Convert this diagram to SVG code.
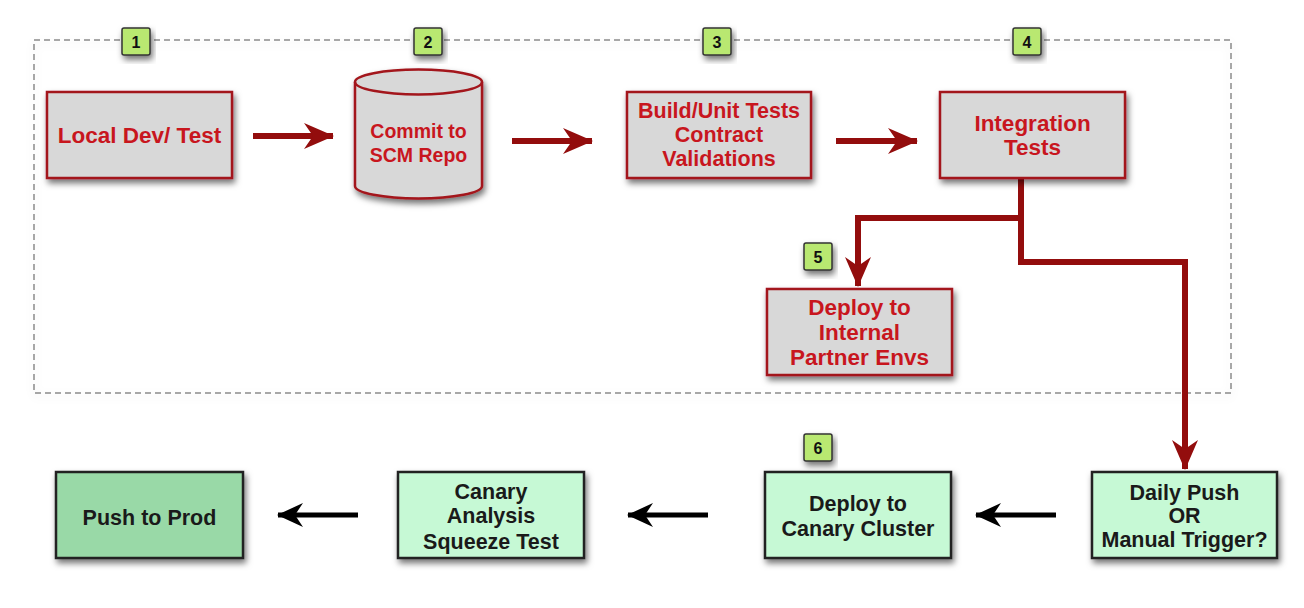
<svg xmlns="http://www.w3.org/2000/svg" width="1304" height="608" viewBox="0 0 1304 608">
<style>
.rbox{fill:#d8d8d8;stroke:#a3161c;stroke-width:2.5}
.gbox{fill:#c6f9d5;stroke:#222;stroke-width:2.5}
.pbox{fill:#99d9a7;stroke:#222;stroke-width:2.5}
.rt{font-family:"Liberation Sans",Arial,sans-serif;font-weight:bold;fill:#c8161e;text-anchor:middle}
.gt{font-family:"Liberation Sans",Arial,sans-serif;font-weight:bold;fill:#1a1a1a;text-anchor:middle;font-size:21.5px}
.badge rect{fill:#b9e871;stroke:#333;stroke-width:1.5}
.badge text{font-family:"Liberation Sans",Arial,sans-serif;font-weight:bold;font-size:16px;fill:#111;text-anchor:middle}
.rc{fill:none;stroke:#930d0d;stroke-width:6}
.bc{fill:none;stroke:#000;stroke-width:5}
</style>
<defs>
<filter id="sh" x="-20%" y="-20%" width="140%" height="150%">
<feDropShadow dx="2" dy="4" stdDeviation="3" flood-color="#000" flood-opacity="0.55"/>
</filter>
<filter id="sh2" x="-5%" y="-5%" width="110%" height="115%">
<feDropShadow dx="0" dy="3" stdDeviation="4" flood-color="#000" flood-opacity="0.12"/>
</filter>
<marker id="ra" markerUnits="userSpaceOnUse" viewBox="0 0 30 26" refX="29" refY="13" markerWidth="30" markerHeight="26" orient="auto">
<path d="M0,0 L30,13 L0,26 L9,13 Z" fill="#930d0d"/>
</marker>
<marker id="ba" markerUnits="userSpaceOnUse" viewBox="0 0 26 24" refX="25" refY="12" markerWidth="26" markerHeight="24" orient="auto">
<path d="M0,0 L26,12 L0,24 L8,12 Z" fill="#000"/>
</marker>
</defs>
<rect width="1304" height="608" fill="#fff"/>
<g id="container">
<rect x="34" y="40" width="1197" height="353" fill="none" stroke="#8a8a8a" stroke-width="1.5" stroke-dasharray="6,4" filter="url(#sh2)"/>
</g>
<g id="connectors">
<line class="rc" x1="253" y1="136" x2="333" y2="136" marker-end="url(#ra)"/>
<line class="rc" x1="512" y1="141" x2="592" y2="141" marker-end="url(#ra)"/>
<line class="rc" x1="836" y1="141" x2="917" y2="141" marker-end="url(#ra)"/>
<path class="rc" d="M1021,178 V218 H858 V286" marker-end="url(#ra)"/>
<path class="rc" d="M1021,218 V262 H1185 V469" marker-end="url(#ra)"/>
<line class="bc" x1="1056" y1="515" x2="976" y2="515" marker-end="url(#ba)"/>
<line class="bc" x1="708" y1="515" x2="628" y2="515" marker-end="url(#ba)"/>
<line class="bc" x1="358" y1="515" x2="278" y2="515" marker-end="url(#ba)"/>
</g>
<g id="n1">
<rect class="rbox" x="47" y="92" width="185" height="86" filter="url(#sh)"/>
<text class="rt" x="139.5" y="143" font-size="22.5">Local Dev/ Test</text>
</g>
<g id="n2">
<path class="rbox" d="M355,82 A63.5,12.5 0 0 1 482,82 L482,186 A63.5,12.5 0 0 1 355,186 Z" filter="url(#sh)"/>
<path d="M355,82 A63.5,12.5 0 0 0 482,82" fill="none" stroke="#a3161c" stroke-width="2.5"/>
<text class="rt" x="418.5" y="138" font-size="19.5">Commit to</text>
<text class="rt" x="418.5" y="162" font-size="19.5">SCM Repo</text>
</g>
<g id="n3">
<rect class="rbox" x="627" y="92" width="184" height="86" filter="url(#sh)"/>
<text class="rt" x="719" y="118" font-size="21.5">Build/Unit Tests</text>
<text class="rt" x="719" y="142" font-size="21.5">Contract</text>
<text class="rt" x="719" y="166" font-size="21.5">Validations</text>
</g>
<g id="n4">
<rect class="rbox" x="940" y="92" width="185" height="86" filter="url(#sh)"/>
<text class="rt" x="1032.5" y="131" font-size="22.5">Integration</text>
<text class="rt" x="1032.5" y="155" font-size="22.5">Tests</text>
</g>
<g id="n5">
<rect class="rbox" x="767" y="289" width="185" height="86" filter="url(#sh)"/>
<text class="rt" x="859.5" y="315" font-size="22.5">Deploy to</text>
<text class="rt" x="859.5" y="340" font-size="22.5">Internal</text>
<text class="rt" x="859.5" y="365" font-size="22.5">Partner Envs</text>
</g>
<g id="n6">
<rect class="gbox" x="1092" y="472" width="185" height="86" filter="url(#sh)"/>
<text class="gt" x="1184.5" y="500">Daily Push</text>
<text class="gt" x="1184.5" y="523">OR</text>
<text class="gt" x="1184.5" y="547">Manual Trigger?</text>
</g>
<g id="n7">
<rect class="gbox" x="765" y="472" width="186" height="86" filter="url(#sh)"/>
<text class="gt" x="858" y="511">Deploy to</text>
<text class="gt" x="858" y="536">Canary Cluster</text>
</g>
<g id="n8">
<rect class="gbox" x="398" y="472" width="186" height="86" filter="url(#sh)"/>
<text class="gt" x="491" y="499">Canary</text>
<text class="gt" x="491" y="523">Analysis</text>
<text class="gt" x="491" y="549">Squeeze Test</text>
</g>
<g id="n9">
<rect class="pbox" x="56" y="472" width="187" height="86" filter="url(#sh)"/>
<text class="gt" x="149.5" y="525">Push to Prod</text>
</g>
<g id="badges">
<g class="badge" id="b1"><rect x="122" y="28" width="28" height="27" rx="2" filter="url(#sh)"/><text x="136" y="47.5">1</text></g>
<g class="badge" id="b2"><rect x="414" y="28" width="28" height="27" rx="2" filter="url(#sh)"/><text x="428" y="47.5">2</text></g>
<g class="badge" id="b3"><rect x="703" y="28" width="28" height="27" rx="2" filter="url(#sh)"/><text x="717" y="47.5">3</text></g>
<g class="badge" id="b4"><rect x="1013" y="28" width="28" height="27" rx="2" filter="url(#sh)"/><text x="1027" y="47.5">4</text></g>
<g class="badge" id="b5"><rect x="804" y="243" width="28" height="27" rx="2" filter="url(#sh)"/><text x="818" y="262.5">5</text></g>
<g class="badge" id="b6"><rect x="804" y="434" width="28" height="27" rx="2" filter="url(#sh)"/><text x="818" y="453.5">6</text></g>
</g>
</svg>
